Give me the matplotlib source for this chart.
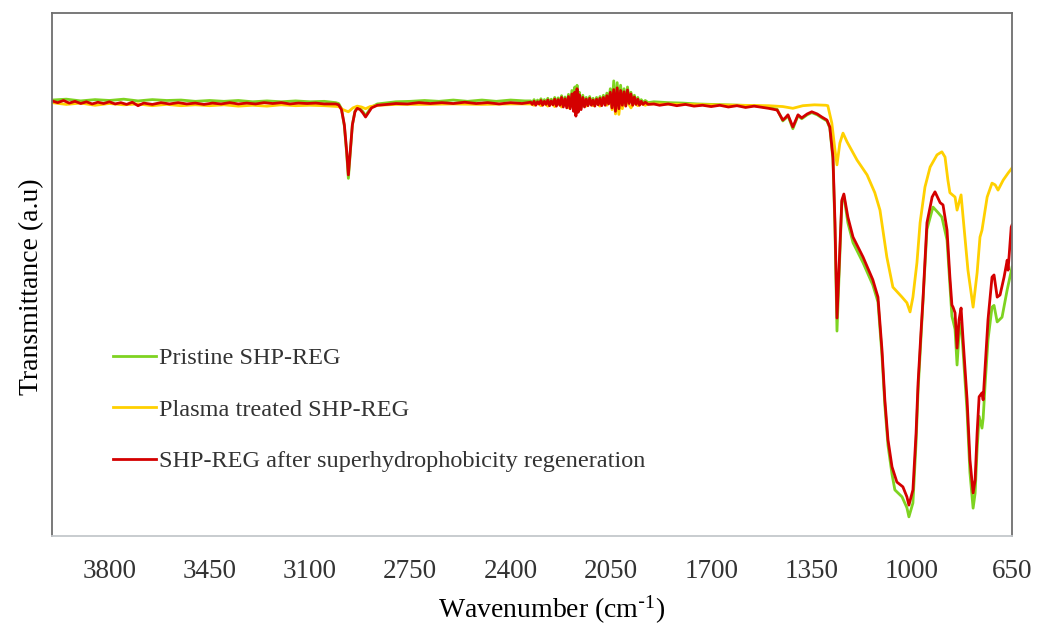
import matplotlib
matplotlib.use("Agg")
import matplotlib.pyplot as plt

plt.rcParams["font.family"] = ["Liberation Serif", "DejaVu Serif"]
plt.rcParams["mathtext.default"] = "regular"

# FTIR spectra, wavenumber (cm-1) vs transmittance (a.u.)
pristine_wn = [4000, 3950, 3900, 3850, 3800, 3750, 3700, 3650, 3600, 3550, 3500, 3450,
               3400, 3350, 3300, 3250, 3200, 3150, 3100, 3050, 3010, 3000, 2990, 2980,
               2972, 2966, 2960, 2952, 2943, 2935, 2925, 2915, 2906, 2897, 2885, 2865,
               2800, 2750, 2700, 2650, 2600, 2550, 2500, 2450, 2400, 2350,
               2330, 2324, 2318, 2312, 2306, 2300, 2294, 2288, 2282, 2276, 2270, 2264,
               2258, 2252, 2246, 2240, 2234, 2228, 2222, 2216, 2210, 2204, 2198, 2192,
               2186, 2180, 2176, 2172, 2168, 2164, 2160, 2154, 2148, 2142, 2136, 2130,
               2124, 2118, 2112, 2106, 2100, 2094, 2088, 2082, 2076, 2070, 2064, 2058,
               2052, 2046, 2040, 2034, 2028, 2022, 2016, 2010, 2004, 1998, 1992, 1986,
               1980, 1974, 1968, 1962, 1956, 1950, 1944, 1938, 1930, 1920,
               1900, 1850, 1800, 1750, 1700, 1650, 1600, 1550, 1500, 1470, 1450, 1440,
               1432, 1415, 1397, 1384, 1365, 1349, 1330, 1314, 1296, 1286, 1275, 1268,
               1261, 1251, 1244, 1237, 1223, 1205, 1170, 1136, 1118, 1104, 1094, 1083,
               1069, 1059, 1034, 1017, 1010, 996, 985, 978, 968, 961, 947, 926,
               908, 895, 877, 867, 860, 856, 849, 842, 835, 828, 821, 807,
               797, 786, 779, 772, 765, 755, 751, 744, 734, 720, 713, 702,
               685, 667, 650]
pristine_t = [100.2, 100.4, 100.0, 100.3, 100.1, 100.4, 100.0, 100.3, 100.1, 100.2, 99.9, 100.1,
              99.9, 100.1, 99.8, 100.0, 99.8, 100.0, 99.8, 99.9, 99.6, 99.4, 98.2, 94.2,
              88.0, 82.2, 87.5, 94.5, 97.6, 98.5, 98.2, 97.5, 96.6, 97.5, 98.6, 99.3,
              99.8, 99.9, 100.1, 99.9, 100.2, 99.9, 100.2, 99.9, 100.2, 100.0,
              100.0, 99.5, 100.3, 99.4, 100.2, 99.6, 100.5, 99.4, 100.3, 99.6, 100.6, 99.3,
              100.4, 99.5, 100.8, 99.2, 100.7, 99.4, 101.2, 99.0, 100.9, 98.8, 101.5, 98.6,
              102.4, 98.0, 103.2, 97.0, 103.6, 97.8, 102.0, 98.4, 101.3, 99.0, 100.8, 99.3,
              101.0, 99.4, 100.6, 99.2, 100.8, 99.5, 101.0, 99.3, 101.3, 99.4, 101.8, 99.6,
              102.8, 98.6, 104.6, 97.2, 104.2, 98.6, 103.6, 99.3, 102.8, 99.0, 103.2, 99.8,
              102.0, 99.4, 101.3, 99.6, 100.8, 99.4, 100.3, 99.6, 100.1, 99.6,
              99.8, 99.6, 99.5, 99.3, 99.2, 99.1, 99.0, 98.9, 98.5, 98.1, 95.4, 96.0,
              96.6, 93.6, 96.6, 95.9, 96.8, 97.3, 96.8, 96.1, 95.4, 93.8, 86.5, 70.5,
              47.1, 64.5, 76.8, 78.2, 72.0, 67.4, 62.8, 57.7, 53.8, 41.5, 30.0, 20.8,
              14.2, 10.6, 9.0, 6.5, 4.4, 7.6, 21.5, 33.5, 45.5, 53.5, 70.5, 75.6,
              74.3, 73.3, 68.0, 57.5, 50.5, 49.5, 47.5, 39.3, 46.5, 49.0, 42.5, 28.5,
              14.5, 6.4, 9.8, 20.0, 27.5, 24.8, 27.0, 35.0, 45.1, 52.6, 53.0, 49.2,
              50.3, 56.6, 61.8]

plasma_wn = [4000, 3950, 3900, 3850, 3800, 3750, 3700, 3650, 3600, 3550, 3500, 3450,
             3400, 3350, 3300, 3250, 3200, 3150, 3100, 3050, 3000, 2985, 2966, 2950,
             2935, 2920, 2906, 2890, 2860, 2800, 2700, 2600, 2500, 2400,
             2330, 2318, 2306, 2294, 2282, 2270, 2258, 2246, 2234, 2222, 2210, 2198,
             2186, 2176, 2168, 2160, 2148, 2136, 2124, 2112, 2100, 2088, 2076, 2064,
             2052, 2046, 2040, 2034, 2028, 2022, 2016, 2010, 2004, 1992, 1980, 1968,
             1956, 1944, 1930, 1920, 1900,
             1800, 1700, 1600, 1500, 1450, 1415, 1380, 1340, 1300, 1293, 1279, 1268,
             1261, 1251, 1240, 1226, 1191, 1156, 1129, 1111, 1087, 1066, 1034, 1017,
             1006, 996, 982, 971, 954, 936, 912, 895, 884, 874, 867, 849,
             842, 828, 821, 804, 786, 772, 762, 755, 737, 720, 709, 699,
             681, 664, 650]
plasma_t = [99.6, 99.2, 99.5, 99.0, 99.4, 99.1, 99.3, 98.9, 99.2, 98.9, 99.1, 98.9,
            99.1, 98.8, 99.0, 98.8, 99.1, 98.9, 99.0, 98.9, 98.7, 98.0, 97.5, 98.4,
            98.8, 98.6, 98.2, 98.7, 99.0, 99.2, 99.2, 99.3, 99.2, 99.3,
            99.3, 99.0, 99.5, 98.9, 99.4, 98.8, 99.5, 98.7, 99.6, 98.6, 99.8, 98.4,
            100.0, 98.2, 100.2, 98.6, 99.6, 98.8, 99.5, 98.9, 99.6, 98.8, 99.8, 99.0,
            100.6, 98.0, 101.2, 97.0, 101.0, 96.9, 100.5, 98.2, 100.2, 99.8, 98.4, 99.6,
            98.9, 99.4, 99.0, 99.3, 99.3,
            99.2, 99.1, 99.0, 98.9, 98.7, 98.3, 98.9, 99.1, 99.0, 98.9, 94.9, 88.7,
            85.3, 90.3, 92.6, 90.6, 86.4, 83.0, 78.9, 74.9, 64.1, 57.2, 54.9, 53.6,
            51.5, 54.9, 62.8, 72.0, 80.2, 84.8, 87.6, 88.3, 87.1, 81.8, 78.9, 77.9,
            74.9, 78.4, 73.3, 61.1, 52.6, 60.5, 68.7, 70.3, 77.9, 81.1, 80.7, 79.5,
            81.8, 83.4, 84.6]

regen_wn = [4000, 3980, 3960, 3940, 3920, 3900, 3880, 3860, 3840, 3820, 3800, 3780,
            3760, 3740, 3720, 3700, 3680, 3650, 3620, 3590, 3560, 3530, 3500, 3470,
            3440, 3410, 3380, 3350, 3320, 3290, 3260, 3230, 3200, 3170, 3140, 3110,
            3080, 3050, 3030, 3010, 3000, 2990, 2980, 2972, 2966, 2960, 2952, 2943,
            2935, 2925, 2915, 2906, 2897, 2885, 2865, 2830, 2800, 2760, 2720, 2680,
            2640, 2600, 2560, 2520, 2480, 2440, 2400, 2360,
            2330, 2324, 2318, 2312, 2306, 2300, 2294, 2288, 2282, 2276, 2270, 2264,
            2258, 2252, 2246, 2240, 2234, 2228, 2222, 2216, 2210, 2204, 2198, 2192,
            2186, 2180, 2176, 2172, 2168, 2164, 2160, 2154, 2148, 2142, 2136, 2130,
            2124, 2118, 2112, 2106, 2100, 2094, 2088, 2082, 2076, 2070, 2064, 2058,
            2052, 2046, 2040, 2034, 2028, 2022, 2016, 2010, 2004, 1998, 1992, 1986,
            1980, 1974, 1968, 1962, 1956, 1950, 1944, 1938, 1930, 1920,
            1900, 1880, 1850, 1820, 1790, 1760, 1730, 1700, 1670, 1640, 1610,
            1580, 1550, 1530, 1500, 1470, 1450, 1440, 1432, 1415, 1397, 1384, 1365,
            1349, 1330, 1314, 1296, 1286, 1275, 1268, 1261, 1251, 1244, 1237, 1223,
            1205, 1170, 1136, 1118, 1104, 1094, 1083, 1069, 1052, 1031, 1017, 1010,
            996, 985, 978, 968, 961, 947, 929, 919, 901, 891, 877, 867,
            860, 856, 849, 842, 835, 828, 821, 807, 797, 786, 779, 772,
            765, 755, 751, 744, 734, 720, 713, 702, 692, 678, 667, 664,
            653, 650]
regen_t = [100.0, 99.6, 100.1, 99.5, 99.9, 99.4, 99.8, 99.3, 99.7, 99.4, 99.8, 99.3,
           99.6, 99.2, 99.7, 98.9, 99.5, 99.2, 99.6, 99.3, 99.6, 99.3, 99.5, 99.2,
           99.5, 99.3, 99.6, 99.3, 99.5, 99.3, 99.6, 99.4, 99.6, 99.3, 99.5, 99.4,
           99.5, 99.3, 99.3, 99.3, 99.1, 98.0, 94.5, 88.5, 83.0, 88.0, 94.5, 97.5,
           98.3, 98.0, 97.2, 96.3, 97.2, 98.4, 99.0, 99.2, 99.4, 99.3, 99.6, 99.4,
           99.6, 99.4, 99.7, 99.4, 99.6, 99.3, 99.6, 99.4,
           99.7, 99.2, 99.9, 99.0, 99.8, 99.3, 100.1, 99.0, 99.9, 99.2, 100.2, 98.9,
           100.0, 99.1, 100.4, 98.8, 100.3, 99.0, 100.8, 98.6, 100.5, 98.4, 101.0, 98.2,
           101.6, 97.6, 102.0, 96.5, 102.8, 97.4, 101.4, 98.0, 100.8, 98.6, 100.4, 98.9,
           100.6, 99.0, 100.2, 98.8, 100.4, 99.1, 100.6, 98.9, 100.8, 99.0, 101.2, 99.3,
           102.0, 98.4, 102.6, 97.6, 103.0, 98.2, 102.4, 99.0, 102.1, 98.8, 102.5, 99.4,
           101.6, 99.0, 100.9, 99.2, 100.4, 99.0, 99.9, 99.2, 99.7, 99.2,
           99.3, 99.0, 99.3, 98.9, 99.2, 98.8, 99.0, 98.7, 99.0, 98.6, 98.9,
           98.5, 98.8, 98.6, 98.3, 97.9, 95.6, 96.2, 96.8, 94.0, 96.8, 96.1, 97.0,
           97.5, 97.0, 96.3, 95.6, 94.0, 87.1, 72.0, 50.1, 65.7, 77.2, 78.6, 73.3,
           68.7, 64.1, 58.9, 54.9, 42.8, 31.3, 22.1, 15.9, 12.4, 11.3, 9.0, 7.1,
           10.6, 23.7, 35.2, 46.7, 54.3, 72.0, 77.9, 79.1, 76.6, 76.1, 70.3, 59.5,
           53.1, 52.6, 51.3, 43.2, 49.7, 52.4, 45.1, 31.3, 17.5, 9.9, 12.9, 23.7,
           32.0, 32.9, 31.3, 38.9, 49.7, 59.5, 60.0, 54.9, 55.4, 59.5, 63.4, 61.1,
           71.0, 71.5]

labels = ["Pristine SHP-REG", "Plasma treated SHP-REG",
          "SHP-REG after superhydrophobicity regeneration"]
colors = ["#7ed321", "#ffd000", "#d40000"]
xticks = [3800, 3450, 3100, 2750, 2400, 2050, 1700, 1350, 1000, 650]

fig = plt.figure(figsize=(10.45, 6.32), dpi=100)
ax = fig.add_axes([0.0498, 0.1519, 0.9187, 0.8275])

ax.plot(pristine_wn, pristine_t, color=colors[0], lw=2.0, label=labels[0])
ax.plot(plasma_wn, plasma_t, color=colors[1], lw=2.0, label=labels[1])
ax.plot(regen_wn, regen_t, color=colors[2], lw=2.0, label=labels[2])

ax.set_xlim(4000, 650)
ax.set_ylim(0, 120.2)
ax.set_xticks(xticks)
ax.set_yticks([])
ax.tick_params(axis="x", length=0, pad=16.5, labelsize=19.5, labelcolor="#333333")

for side in ["left", "top", "right"]:
    ax.spines[side].set_color("#6e6e6e")
    ax.spines[side].set_linewidth(1.3)
ax.spines["bottom"].set_color("#c4c8cc")
ax.spines["bottom"].set_linewidth(1.3)

ax.set_xlabel(r"Wavenumber (cm$^{\text{-}1}$)", fontsize=20, va="center")
ax.xaxis.set_label_coords(0.52, -0.1415)
ax.set_ylabel("Transmittance (a.u)", fontsize=20, va="center")
ax.yaxis.set_label_coords(-0.021, 0.476)

leg = ax.legend(loc="upper left", bbox_to_anchor=(113 / 1045, 1 - 347 / 632),
                bbox_transform=fig.transFigure, frameon=False, fontsize=17.5,
                handlelength=1.75, handletextpad=0.15, labelspacing=1.22,
                borderpad=0, borderaxespad=0)
for t in leg.get_texts():
    t.set_color("#333333")

fig.savefig("out.png", dpi=100)
